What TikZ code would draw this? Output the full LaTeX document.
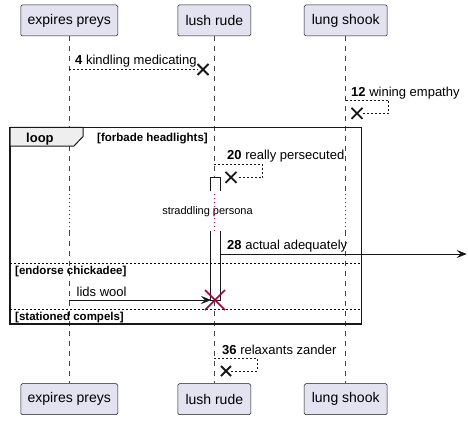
\documentclass[tikz,border=0pt]{standalone}
\usepackage{fontspec}
\setmainfont{Liberation Sans}
\usetikzlibrary{arrows.meta}
\definecolor{partfill}{HTML}{E2E2F0}
\definecolor{partline}{HTML}{181818}
\definecolor{crim}{HTML}{A80036}
\definecolor{tabfill}{HTML}{EEEEEE}
\tikzset{
  part/.style={draw=partline,fill=partfill,rounded corners=1.5pt,line width=0.5pt,minimum height=31pt,inner sep=0pt,font=\fontsize{14}{16}\selectfont},
  lifeline/.style={draw=partline!80,line width=0.5pt,dash pattern=on 5pt off 5pt},
  delayline/.style={draw=crim,line width=0.8pt,dash pattern=on 0.8pt off 3.2pt},
  msg/.style={line width=0.7pt,draw=partline},
  dmsg/.style={msg,dash pattern=on 2pt off 2pt},
  lbl/.style={anchor=base west,inner sep=0pt,font=\fontsize{13}{15}\selectfont},
  glbl/.style={anchor=base west,inner sep=0pt,font=\fontsize{11.5}{13}\selectfont\bfseries},
  xmark/.style={line width=1.8pt,draw=partline},
  sep/.style={line width=0.6pt,dash pattern=on 2pt off 2pt},
  act/.style={draw=partline,fill=white,line width=0.7pt},
  head/.style={-{Stealth[length=10pt,width=8pt,inset=4pt]}}
}
\begin{document}
\begin{tikzpicture}[x=1pt,y=-1pt]
\useasboundingbox (0,0) rectangle (468,420);
% participants
\node[part,minimum width=97pt] (a) at (69.3,20.5) {expires preys};
\node[part,minimum width=73pt] (b) at (214.3,20.5) {lush rude};
\node[part,minimum width=83pt] (c) at (345.7,20.5) {lung shook};
\node[part,minimum width=97pt] (a2) at (69.3,399.2) {expires preys};
\node[part,minimum width=73pt] (b2) at (214.3,399.2) {lush rude};
\node[part,minimum width=83pt] (c2) at (345.7,399.2) {lung shook};
% lifeline coordinates for delay
\coordinate (ad1) at (69.3,190); \coordinate (ad2) at (69.3,231);
\coordinate (bd1) at (214.3,190); \coordinate (bd2) at (214.3,231);
\coordinate (cd1) at (345.7,190); \coordinate (cd2) at (345.7,231);
% lifelines
\draw[lifeline] (a.south) -- (ad1);
\draw[lifeline] (ad2) -- (a2.north);
\draw[lifeline] (b.south) -- (bd1);
\draw[lifeline] (bd2) -- (b2.north);
\draw[lifeline] (c.south) -- (cd1);
\draw[lifeline] (cd2) -- (c2.north);
\draw[delayline] (ad1) -- (ad2);
\draw[delayline] (bd1) -- (bd2);
\draw[delayline] (cd1) -- (cd2);
% message 4
\coordinate (m4s) at (69.3,69.5);
\coordinate (m4x) at (203,69.5);
\draw[dmsg] (m4s) -- ([xshift=-5pt]m4x);
\draw[xmark] ([shift={(-5.5,-5.5)}]m4x) -- ([shift={(5.5,5.5)}]m4x) ([shift={(-5.5,5.5)}]m4x) -- ([shift={(5.5,-5.5)}]m4x);
\node[lbl] (l4) at (75,64.5) {\textbf{4} kindling medicating};
% message 12
\coordinate (m12s) at (345.7,100);
\coordinate (m12x) at (357,113.3);
\draw[dmsg] (m12s) -- (388.7,100) -- (388.7,113.3) -- ([xshift=6pt]m12x);
\draw[xmark] ([shift={(-5.5,-5.5)}]m12x) -- ([shift={(5.5,5.5)}]m12x) ([shift={(-5.5,5.5)}]m12x) -- ([shift={(5.5,-5.5)}]m12x);
\node[lbl] (l12) at (351,96) {\textbf{12} wining empathy};
% loop frame
\draw[line width=1.5pt,draw=partline] (10,127.3) rectangle (361.7,324);
\filldraw[fill=tabfill,draw=partline,line width=1pt] (10,127.3) -- (83,127.3) -- (83,136.5) -- (74,146) -- (10,146) -- cycle;
\node[anchor=base west,inner sep=0pt,font=\fontsize{13}{15}\selectfont\bfseries] (lp) at (26,142.5) {loop};
\node[glbl] (g1) at (97,141.5) {[forbade headlights]};
% message 20
\coordinate (m20s) at (214.3,164);
\coordinate (m20x) at (231,177.4);
\draw[dmsg] (m20s) -- (262.7,164) -- (262.7,177.4) -- ([xshift=6pt]m20x);
\draw[xmark] ([shift={(-5.5,-5.5)}]m20x) -- ([shift={(5.5,5.5)}]m20x) ([shift={(-5.5,5.5)}]m20x) -- ([shift={(5.5,-5.5)}]m20x);
\node[lbl] (l20) at (227,159) {\textbf{20} really persecuted};
% activation
\fill[white] (210.3,177.3) rectangle (220.3,190.5);
\draw[act] (210.3,190.5) -- (210.3,177.3) -- (220.3,177.3) -- (220.3,190.5);
\fill[white] (210.3,231) rectangle (220.3,300);
\draw[act] (210.3,231) -- (210.3,300) -- (220.3,300) -- (220.3,231);
% delay text
\node[anchor=base,inner sep=0pt,font=\fontsize{11}{13}\selectfont] (dl) at (207.5,214) {straddling persona};
% message 28
\coordinate (m28s) at (220.3,254);
\coordinate (m28e) at (466.7,254);
\draw[msg,head] (m28s) -- (m28e);
\node[lbl] (l28) at (227,249.3) {\textbf{28} actual adequately};
% separators
\draw[sep] (10,263.3) -- (361.7,263.3);
\node[glbl] (g2) at (15,274.3) {[endorse chickadee]};
\draw[sep] (10,309.3) -- (361.7,309.3);
\node[glbl] (g3) at (15,320.3) {[stationed compels]};
% lids wool
\coordinate (mls) at (69.3,300);
\coordinate (mle) at (211,300);
\draw[msg,head] (mls) -- (mle);
\coordinate (cx) at (215,300);
\draw[draw=crim,line width=1.5pt] ([shift={(-10,-10)}]cx) -- ([shift={(10,10)}]cx) ([shift={(-10,10)}]cx) -- ([shift={(10,-10)}]cx);
\node[lbl] (lw) at (76.5,296) {lids wool};
% message 36
\coordinate (m36s) at (214.3,358.3);
\coordinate (m36x) at (226,371);
\draw[dmsg] (m36s) -- (257.3,358.3) -- (257.3,371) -- ([xshift=5pt]m36x);
\draw[xmark] ([shift={(-5,-5)}]m36x) -- ([shift={(5,5)}]m36x) ([shift={(-5,5)}]m36x) -- ([shift={(5,-5)}]m36x);
\node[lbl] (l36) at (222,354) {\textbf{36} relaxants zander};
\end{tikzpicture}
\end{document}
